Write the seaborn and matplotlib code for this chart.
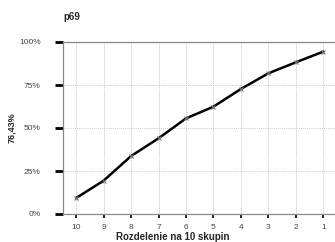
import matplotlib
matplotlib.use("Agg")
import matplotlib.pyplot as plt
import seaborn as sns
import pandas as pd
from matplotlib.ticker import FuncFormatter

groups = ["10", "9", "8", "7", "6", "5", "4", "3", "2", "1"]
values = [9.3, 19.4, 33.7, 44.0, 55.6, 62.4, 72.7, 81.8, 88.2, 94.4]
y_ticks = [0, 25, 50, 75, 100]
title = "p69"
y_label = "76,43%"
x_label = "Rozdelenie na 10 skupin"

sns.set_style("white")
plt.rcParams['font.family'] = ['Liberation Sans', 'DejaVu Sans']

df = pd.DataFrame({"group": groups, "value": values})
df["pos"] = range(len(groups))

fig = plt.figure(figsize=(3.35, 2.42), dpi=100)
ax = fig.add_axes([63/335, 1-214/242, 1-63/335 + 0.002, 172/242])

sns.lineplot(data=df, x="pos", y="value", ax=ax, color="black", linewidth=1.8,
             marker="x", markersize=3.5, markeredgecolor="#777777", markeredgewidth=0.8)

ax.set_xlim(-0.48, 9.45)
ax.set_ylim(0, 100)
ax.set_xticks(df["pos"])
ax.set_xticklabels(groups)
ax.set_yticks(y_ticks)
ax.yaxis.set_major_formatter(FuncFormatter(lambda v, p: f"{int(v)}%"))

ax.grid(True, color="#bbbbbb", linestyle=(0, (1, 1.3)), linewidth=0.6)
for s in ax.spines.values():
    s.set_color("#888888")
    s.set_linewidth(0.9)

ax.tick_params(axis="y", length=6, width=2, color="black", pad=10,
               labelsize=6, labelcolor="#444444", direction="out", left=True)
ax.tick_params(axis="x", length=3, width=1.2, color="black", pad=4,
               labelsize=6, labelcolor="#444444", direction="out", bottom=True)

ax.set_xlabel("")
ax.set_ylabel("")
fig.text(173/335, 1-237/242, x_label, ha="center", va="center",
         fontsize=7, fontweight="bold")
fig.text(12/335, 1-128/242, y_label, ha="center", va="center", rotation=90,
         fontsize=6.5, fontweight="bold")
fig.text(63/335, 1-17/242, title, ha="left", va="center",
         fontsize=7, fontweight="bold")

fig.savefig("out.png", dpi=100)
